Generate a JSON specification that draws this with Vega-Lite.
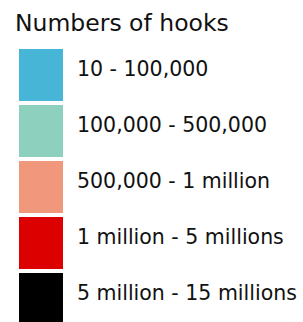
{
  "$schema": "https://vega.github.io/schema/vega-lite/v6.json",
  "width": 303,
  "height": 322,
  "padding": 0,
  "autosize": {"type": "none"},
  "background": "white",
  "config": {"view": {"stroke": null}},
  "data": {"values": [
    {"range": "10 - 100,000"},
    {"range": "100,000 - 500,000"},
    {"range": "500,000 - 1 million"},
    {"range": "1 million - 5 millions"},
    {"range": "5 million - 15 millions"}
  ]},
  "mark": {"type": "point", "filled": true, "size": 0, "opacity": 1},
  "encoding": {
    "color": {
      "field": "range",
      "type": "nominal",
      "scale": {
        "domain": ["10 - 100,000", "100,000 - 500,000", "500,000 - 1 million", "1 million - 5 millions", "5 million - 15 millions"],
        "range": ["#47B6D6", "#8ED0BE", "#F1977B", "#DD0000", "#000000"]
      },
      "legend": {
        "title": "Numbers of hooks",
        "orient": "none",
        "legendX": 15,
        "legendY": 12,
        "padding": 0,
        "titleFont": "DejaVu Sans",
        "titleFontSize": 23.5,
        "titleFontWeight": "normal",
        "titleColor": "#111111",
        "titleLimit": 300,
        "titlePadding": 13.5,
        "labelFont": "DejaVu Sans",
        "labelFontSize": 20.5,
        "labelColor": "#111111",
        "labelOffset": 10,
        "labelLimit": 300,
        "symbolType": "M-0.846,-1H0.846V1H-0.846Z",
        "symbolSize": 2704,
        "symbolStrokeWidth": 0,
        "symbolOpacity": 1,
        "rowPadding": 4,
        "encode": {"labels": {"update": {"dy": {"value": -5}}}}
      }
    }
  }
}
